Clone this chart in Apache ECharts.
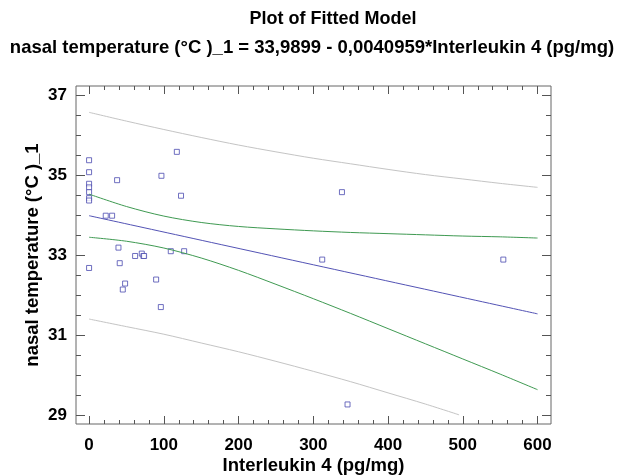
<!DOCTYPE html>
<html lang="en">

<head>
    <meta charset="UTF-8">
    <script src="https://cdn.jsdelivr.net/npm/echarts@6/dist/echarts.min.js"></script>
    <title>Plot of Fitted Model</title>
    <style>
        body { margin: 0; background: #fff; }
    </style>
</head>

<body>
    <div id="main" style="width: 617px;height:476px;"></div>

    <script>
        // observed points (Interleukin 4, nasal temperature)
        var obsX = [0, 0, 37.5, 96.8, 117.4, 123, 0, 0, 0, 0, 0, 22.3, 30.8,
            39.3, 0, 61.6, 70.5, 72.7, 73.6, 41, 109.3, 127.2, 48.2, 45.1, 89.7, 96,
            338.3, 311.9, 345.8, 554.2];
        var obsY = [35.38, 35.08, 34.88, 34.99, 35.59, 34.49, 34.79, 34.70, 34.58, 34.43, 34.37, 33.99, 33.99,
            33.19, 32.68, 32.98, 33.04, 32.98, 32.98, 32.8, 33.1, 33.1, 32.29, 32.14, 32.39, 31.7,
            34.58, 32.89, 29.26, 32.89];

        // fitted line ends: 33,9899 - 0,0040959*x
        var fitX = [0, 600];
        var fitY = [33.99, 31.53];

        // confidence limits (green)
        var bandX = [0, 50, 100, 150, 200, 250, 300, 350, 400, 450, 500, 550, 600];
        var confUpper = [34.53, 34.22, 33.98, 33.82, 33.72, 33.66, 33.61, 33.57, 33.54, 33.51, 33.48, 33.46, 33.43];
        var confLower = [33.45, 33.35, 33.18, 32.93, 32.62, 32.27, 31.91, 31.54, 31.16, 30.78, 30.40, 30.02, 29.63];

        // prediction limits (gray)
        var predUpper = [36.58, 36.36, 36.15, 35.95, 35.76, 35.59, 35.43, 35.29, 35.15, 35.02, 34.91, 34.80, 34.70];
        var predLowerX = [0, 50, 100, 150, 200, 250, 300, 350, 400, 450, 495];
        var predLower = [31.40, 31.21, 31.02, 30.80, 30.58, 30.34, 30.09, 29.83, 29.55, 29.27, 29.00];

        var xTicks = [];
        for (var i = 0; i <= 600; i += 20) xTicks.push(i);
        var xLabels = [0, 100, 200, 300, 400, 500, 600];
        var yTicks = [];
        for (var v = 29; v <= 37; v += 0.5) yTicks.push(v);
        var yLabels = [29, 31, 33, 35, 37];

        function pairs(xs, ys) {
            var out = [];
            for (var i = 0; i < xs.length; i++) out.push([xs[i], ys[i]]);
            return out;
        }

        var font = 'Liberation Sans, Arial, sans-serif';
        var tickColor = '#555';

        function xAx(pos, vals, len, labels) {
            return {
                type: 'value', position: pos, min: -17.5, max: 618,
                axisLine: { show: false, onZero: false },
                splitLine: { show: false },
                axisTick: { show: true, inside: true, length: len, customValues: vals, lineStyle: { color: tickColor } },
                axisLabel: labels ? {
                    customValues: xLabels, margin: 13, color: '#000',
                    fontFamily: font, fontWeight: 'bold', fontSize: 17
                } : { show: false }
            };
        }

        function yAx(pos, vals, len, labels) {
            return {
                type: 'value', position: pos, min: 28.77, max: 37.24,
                axisLine: { show: false, onZero: false },
                splitLine: { show: false },
                axisTick: { show: true, inside: true, length: len, customValues: vals, lineStyle: { color: tickColor } },
                axisLabel: labels ? {
                    customValues: yLabels, margin: 9, color: '#000',
                    fontFamily: font, fontWeight: 'bold', fontSize: 17
                } : { show: false }
            };
        }

        var myChart = echarts.init(document.getElementById('main'));

        var xa = [
            xAx('bottom', xTicks, 4, true),
            xAx('bottom', xLabels, 8, false),
            xAx('top', xTicks, 4, false),
            xAx('top', xLabels, 8, false)
        ];
        xa[0].name = 'Interleukin 4 (pg/mg)';
        xa[0].nameLocation = 'middle';
        xa[0].nameGap = 32;
        xa[0].nameMoveOverlap = false;
        xa[0].nameTextStyle = { fontFamily: font, fontWeight: 'bold', fontSize: 18.5, color: '#000' };

        var ya = [
            yAx('left', yTicks, 5, true),
            yAx('left', yLabels, 9, false),
            yAx('right', yTicks, 5, false),
            yAx('right', yLabels, 9, false)
        ];
        ya[0].name = 'nasal temperature (°C )_1';
        ya[0].nameLocation = 'middle';
        ya[0].nameGap = 34;
        ya[0].nameMoveOverlap = false;
        ya[0].nameTextStyle = { fontFamily: font, fontWeight: 'bold', fontSize: 18.5, color: '#000' };

        function line(data, color) {
            return {
                type: 'line', data: data, smooth: 0.3, symbol: 'none', silent: true,
                lineStyle: { color: color, width: 1 }
            };
        }

        option = {
            animation: false,
            backgroundColor: '#fff',
            title: [{
                text: 'Plot of Fitted Model',
                left: 328, top: 5, textAlign: 'center',
                textStyle: { fontFamily: font, fontWeight: 'bold', fontSize: 18, color: '#000' }
            }, {
                text: 'nasal temperature (°C )_1 = 33,9899 - 0,0040959*Interleukin 4 (pg/mg)',
                left: 307, top: 33, textAlign: 'center',
                textStyle: { fontFamily: font, fontWeight: 'bold', fontSize: 18.5, color: '#000' }
            }],
            grid: {
                left: 76, right: 66, top: 86, bottom: 52,
                outerBoundsMode: 'none',
                show: true, borderColor: '#666', borderWidth: 1, backgroundColor: '#fff'
            },
            xAxis: xa,
            yAxis: ya,
            series: [
                line(pairs(bandX, predUpper), '#c4c4c4'),
                line(pairs(predLowerX, predLower), '#c4c4c4'),
                line(pairs(bandX, confUpper), '#3f9a52'),
                line(pairs(bandX, confLower), '#3f9a52'),
                line(pairs(fitX, fitY), '#5353b5'),
                {
                    type: 'scatter', data: pairs(obsX, obsY),
                    symbol: 'rect', symbolSize: 5,
                    itemStyle: { color: '#fff', borderColor: '#4b4bb0', borderWidth: 1 }
                }
            ]
        };

        myChart.setOption(option);
    </script>

</body>

</html>
